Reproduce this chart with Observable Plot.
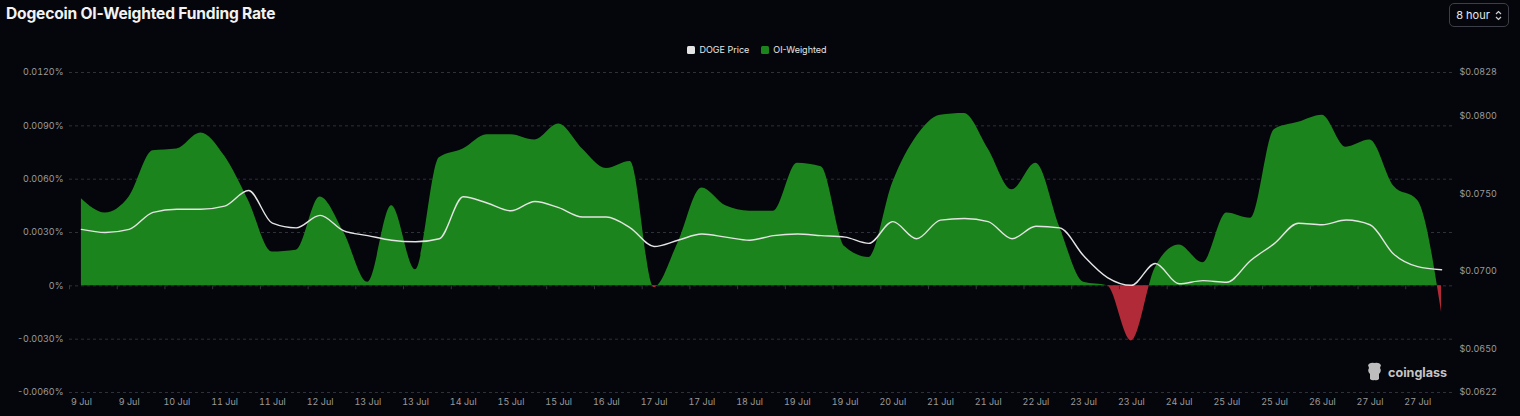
<!DOCTYPE html>
<html>
<head>
<meta charset="utf-8">
<script src="https://cdn.jsdelivr.net/npm/d3@7"></script>
<script src="https://cdn.jsdelivr.net/npm/@observablehq/plot@0.6"></script>
<style>
  html, body { margin: 0; padding: 0; background: #05060b; }
  body { width: 1520px; height: 416px; position: relative; overflow: hidden; font-family: Inter, "Noto Sans", sans-serif; }
  #title { position: absolute; left: 6px; top: 4px; font-size: 15.6px; font-weight: 700; color: #f2f2f2; letter-spacing: -0.2px; }
  #btn { position: absolute; left: 1449px; top: 3px; width: 58px; height: 22px; border: 1px solid #3c3f47; border-radius: 5px; color: #e8e8e8; font-size: 11px; display: flex; align-items: center; justify-content: center; gap: 5px; box-sizing: content-box; }
  #legend { position: absolute; left: 0; width: 1514px; top: 44px; display: flex; justify-content: center; gap: 12px; font-size: 9px; color: #e6e6e6; }
  #legend .item { display: flex; align-items: center; gap: 4px; }
  #legend .sw { width: 8px; height: 8px; border-radius: 1.5px; display: inline-block; }
  #chart { position: absolute; left: 0; top: 0; }
  #wm { position: absolute; left: 1366px; top: 362px; display: flex; align-items: center; gap: 5px; color: #c4c4c4; font-size: 12.6px; font-weight: 700; }
</style>
</head>
<body>
<div id="chart"></div>
<div id="title">Dogecoin OI-Weighted Funding Rate</div>
<div id="btn"><span>8 hour</span>
  <svg width="7" height="11" viewBox="0 0 7 11"><path d="M1 4 L3.5 1.5 L6 4 M1 7 L3.5 9.5 L6 7" fill="none" stroke="#d0d0d0" stroke-width="1.2"/></svg>
</div>
<div id="legend"></div>
<div id="wm">
  <svg width="17" height="20" viewBox="0 0 17 20"><path d="M2 3 Q4 0 8.5 1 Q13 0 15 3 L14 6 Q16 9 13 12 L13 17 Q11 19 8.5 18 Q6 19 4 17 L4 12 Q1 9 3 6 Z" fill="#bdbdbd"/></svg>
  <span>coinglass</span>
</div>
<script>
// ---- data (8-hour intervals starting 9 Jul 00:00) ----
const startTime = Date.UTC(2023, 6, 9, 0, 0);
const stepHours = 8;
const fundingRate = [ // OI-weighted funding rate, %
  0.0049, 0.0041, 0.0050, 0.0076, 0.0077, 0.0086, 0.0073, 0.0048, 0.0019, 0.0020,
  0.0050, 0.0030, 0.0002, 0.0045, 0.0009, 0.0072, 0.0077, 0.0085, 0.0085, 0.0082,
  0.0091, 0.0077, 0.0066, 0.0070, -0.0001, 0.0024, 0.0055, 0.0045, 0.0042, 0.0042,
  0.0069, 0.0067, 0.0022, 0.0016, 0.0058, 0.0084, 0.0096, 0.0097, 0.0077, 0.0054,
  0.0069, 0.0033, 0.0002, 0.0000, -0.0031, 0.0010, 0.0023, 0.0013, 0.0041, 0.0038,
  0.0088, 0.0092, 0.0096, 0.0078, 0.0082, 0.0056, 0.0048, -0.0015
];
const dogePrice = [ // USD
  0.0727, 0.0725, 0.0727, 0.0738, 0.0740, 0.0740, 0.0742, 0.0752, 0.0731, 0.0728,
  0.0736, 0.0726, 0.0723, 0.0720, 0.0719, 0.0721, 0.0748, 0.0744, 0.0739, 0.0745,
  0.0741, 0.0735, 0.0735, 0.0728, 0.0716, 0.0720, 0.0724, 0.0722, 0.0720, 0.0723,
  0.0724, 0.0723, 0.0722, 0.0718, 0.0732, 0.0721, 0.0733, 0.0734, 0.0732, 0.0721,
  0.0729, 0.0728, 0.0710, 0.0696, 0.0691, 0.0705, 0.0692, 0.0694, 0.0693, 0.0707,
  0.0718, 0.0731, 0.0730, 0.0733, 0.0730, 0.0711, 0.0703, 0.0701
];
const rateTicks = [-0.006, -0.003, 0, 0.003, 0.006, 0.009, 0.012];
const priceTicks = [0.0622, 0.0650, 0.0700, 0.0750, 0.0800, 0.0828];
const rateDomain = [-0.006, 0.012];
const priceDomain = [0.0622, 0.0828];
const xTickEveryHours = 16;
const xTickCount = 29;
const seriesNames = ["DOGE Price", "OI-Weighted"];
const seriesColors = ["#e4e4e4", "#1c841c"];
const negColor = "#b02a38";

// ---- derived ----
const H = 3600 * 1000;
const times = fundingRate.map((_, i) => new Date(startTime + i * stepHours * H));
const data = times.map((t, i) => ({t, rate: fundingRate[i], price: dogePrice[i]}));
const priceToRate = d3.scaleLinear().domain(priceDomain).range(rateDomain);
const xTicks = d3.range(xTickCount).map(i => new Date(startTime + i * xTickEveryHours * H));
const xBounds = xTicks.map(t => new Date(+t - stepHours / 2 * H));
const fmtDate = d3.utcFormat("%-d %b");

// legend
const leg = document.getElementById("legend");
seriesNames.forEach((n, i) => {
  const it = document.createElement("div"); it.className = "item";
  const sw = document.createElement("span"); sw.className = "sw"; sw.style.background = seriesColors[i];
  const tx = document.createElement("span"); tx.textContent = n;
  it.appendChild(sw); it.appendChild(tx); leg.appendChild(it);
});

// gradient defs mark: green above zero, red below
const gradMark = (index, scales, values, dims) => {
  const y0 = scales.y(0);
  const defs = d3.create("svg:defs");
  const g = defs.append("linearGradient").attr("id", "frGrad")
    .attr("gradientUnits", "userSpaceOnUse")
    .attr("x1", 0).attr("x2", 0).attr("y1", dims.marginTop).attr("y2", dims.height - dims.marginBottom);
  const off = (y0 - dims.marginTop) / (dims.height - dims.marginTop - dims.marginBottom);
  g.append("stop").attr("offset", off).attr("stop-color", seriesColors[1]);
  g.append("stop").attr("offset", off).attr("stop-color", negColor);
  return defs.node();
};

const plot = Plot.plot({
  width: 1520,
  height: 416,
  marginTop: 72,
  marginBottom: 24,
  marginLeft: 69,
  marginRight: 67,
  style: {background: "transparent", color: "#9a9a9a", fontSize: "9px", fontFamily: "Inter, 'Noto Sans', sans-serif"},
  x: {type: "utc", label: null, domain: [new Date(startTime - stepHours / 2 * H), new Date(+times[times.length - 1] + stepHours / 2 * H)]},
  y: {domain: rateDomain, label: null},
  marks: [
    gradMark,
    Plot.gridY(rateTicks, {stroke: "#2e3139", strokeOpacity: 1, strokeDasharray: "3,3"}),
    Plot.areaY(data, {x: "t", y: "rate", curve: "monotone-x", fill: "url(#frGrad)"}),
    Plot.line(data, {x: "t", y: d => priceToRate(d.price), curve: "monotone-x", stroke: seriesColors[0], strokeWidth: 1.4}),
    Plot.ruleX(xBounds, {y1: 0, y2: -0.00022, stroke: "#33363e"}),
    Plot.axisY(rateTicks, {anchor: "left", label: null, tickSize: 0, tickPadding: 6, tickFormat: d => d === 0 ? "0%" : d.toFixed(4) + "%", fill: "#9a9a9a"}),
    Plot.axisY(priceTicks.map(p => priceToRate(p)), {anchor: "right", label: null, tickSize: 0, tickPadding: 6, tickFormat: d => "$" + priceToRate.invert(d).toFixed(4), fill: "#9a9a9a"}),
    Plot.axisX(xTicks, {anchor: "bottom", label: null, tickSize: 0, tickPadding: 6, tickFormat: fmtDate, fill: "#9a9a9a"})
  ]
});
document.getElementById("chart").appendChild(plot);
</script>
</body>
</html>
